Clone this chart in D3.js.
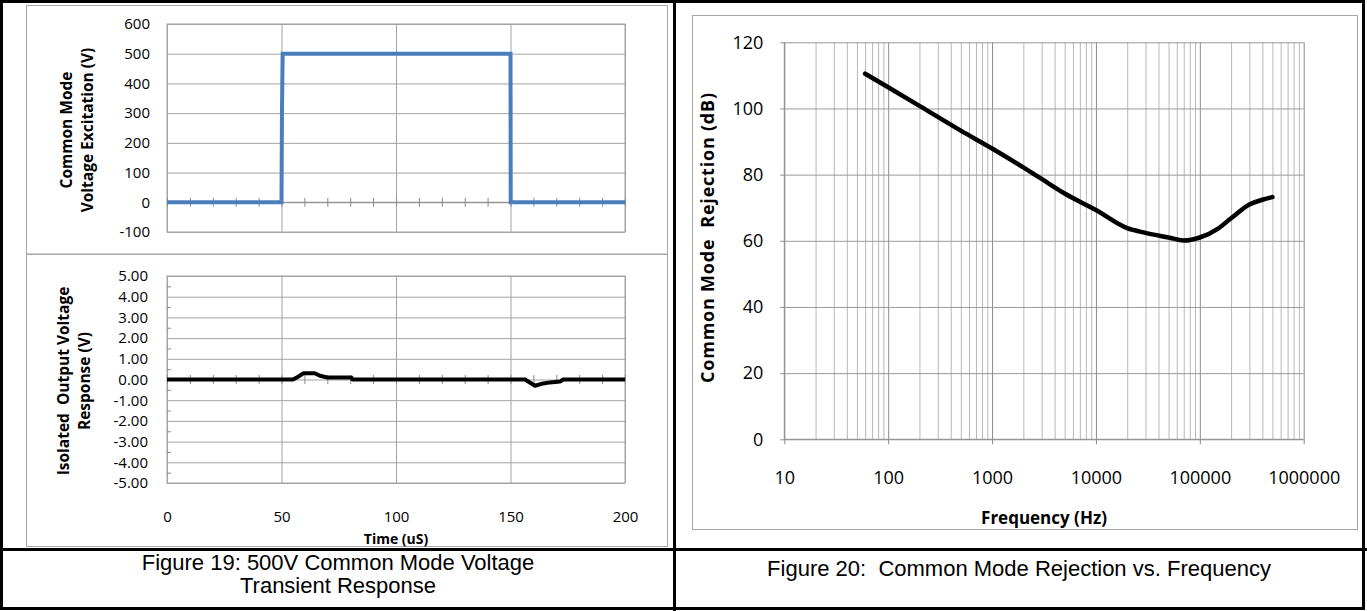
<!DOCTYPE html>
<html>
<head>
<meta charset="utf-8">
<script src="https://cdn.jsdelivr.net/npm/d3@7"></script>
<style>
  html, body { margin: 0; padding: 0; background: #fff; }
  svg { display: block; }
  .chart text { font-family: "Open Sans", sans-serif; fill: #000; }
  .caption { font-family: "Liberation Sans", Arial, sans-serif; fill: #000; }
</style>
</head>
<body>
<svg id="fig" width="1367" height="611"></svg>
<script>
// ---- Figure 19: 500 V common-mode step and isolated output response ----
const timeTicks = [0, 50, 100, 150, 200];
const excitationTicks = [-100, 0, 100, 200, 300, 400, 500, 600];
const responseTicks = [-5, -4, -3, -2, -1, 0, 1, 2, 3, 4, 5];

const stepTime  = [0, 50, 50.2, 50.5, 150, 150.1, 200];
const stepVolts = [0, 0, 300, 500, 500, 0, 0];

const respTime  = [0, 55, 57.5, 59.5, 64.5, 66.8, 70, 80.5, 81, 156.3, 160.7, 164.3, 167.2, 171.6, 173, 200];
const respVolts = [0, 0, 0.15, 0.3, 0.3, 0.18, 0.1, 0.1, 0, 0, -0.3, -0.19, -0.14, -0.1, 0, 0];

// ---- Figure 20: common-mode rejection vs frequency ----
const freqTicks = [10, 100, 1000, 10000, 100000, 1000000];
const cmrTicks  = [0, 20, 40, 60, 80, 100, 120];
const cmrFreq = [60, 100, 200, 500, 1000, 2000, 3000, 5000, 10000, 20000, 30000, 50000, 70000, 100000, 150000, 200000, 300000, 400000, 500000];
const cmrDb   = [110.5, 106.4, 100.8, 93.3, 87.9, 82.2, 78.7, 74.3, 69.3, 63.8, 62.4, 61.0, 60.1, 61.0, 63.7, 66.8, 71.0, 72.4, 73.2];

const captionLeft  = ["Figure 19: 500V Common Mode Voltage", "Transient Response"];
const captionRight = "Figure 20:  Common Mode Rejection vs. Frequency";

const svg = d3.select("#fig");
const GRID = "#a3a3a3";
const FRAME = "#a6a6a6";

// ---------- chart frames ----------
const frames = svg.append("g");
frames.append("rect").attr("x", 26.5).attr("y", 5.5).attr("width", 641).attr("height", 248.5)
  .attr("fill", "none").attr("stroke", FRAME);
frames.append("rect").attr("x", 26.5).attr("y", 254.5).attr("width", 641).attr("height", 292)
  .attr("fill", "none").attr("stroke", FRAME);
frames.append("rect").attr("x", 692.5).attr("y", 15.5).attr("width", 665).attr("height", 514)
  .attr("fill", "none").attr("stroke", FRAME);

function cleanGrid(sel, color) {
  sel.select(".domain").remove();
  sel.selectAll(".tick line").attr("stroke", color).attr("stroke-width", 1);
}

// ---------- top-left: excitation ----------
const xT = d3.scaleLinear().domain([0, 200]).range([167, 625]);
const yV = d3.scaleLinear().domain([-100, 600]).range([232, 24]);
const gTop = svg.append("g").attr("class", "chart");

gTop.append("g").attr("transform", `translate(${xT(0)},0)`)
  .call(d3.axisLeft(yV).tickValues(excitationTicks).tickSize(-(xT(200) - xT(0))).tickFormat(""))
  .call(g => cleanGrid(g, GRID));
gTop.append("g").attr("transform", `translate(0,${yV(-100)})`)
  .call(d3.axisBottom(xT).tickValues(timeTicks).tickSize(-(yV(-100) - yV(600))).tickFormat(""))
  .call(g => cleanGrid(g, GRID));
gTop.append("rect").attr("x", xT(0)).attr("y", yV(600))
  .attr("width", xT(200) - xT(0)).attr("height", yV(-100) - yV(600))
  .attr("fill", "none").attr("stroke", GRID);

// zero axis with minor ticks
gTop.append("g").attr("transform", `translate(0,${yV(0) - 4.5})`)
  .call(d3.axisBottom(xT).tickValues(d3.range(0, 201, 10)).tickSize(9).tickFormat(""))
  .call(g => { g.select(".domain").remove(); g.selectAll(".tick line").attr("stroke", "#8a8a8a"); });
gTop.append("line").attr("x1", xT(0)).attr("x2", xT(200)).attr("y1", yV(0)).attr("y2", yV(0))
  .attr("stroke", "#8a8a8a");

gTop.append("g").attr("transform", `translate(${xT(0)},0)`)
  .call(d3.axisLeft(yV).tickValues(excitationTicks).tickSize(0).tickPadding(17).tickFormat(d => String(d)))
  .call(g => g.select(".domain").remove())
  .call(g => g.selectAll("text").attr("font-size", 15).attr("font-family", "Open Sans"));

gTop.append("path")
  .datum(stepTime.map((t, i) => [t, stepVolts[i]]))
  .attr("fill", "none").attr("stroke", "#4a7ebb").attr("stroke-width", 4)
  .attr("stroke-linejoin", "miter")
  .attr("d", d3.line().x(d => xT(d[0])).y(d => yV(d[1])));

const topTitle = gTop.append("g").attr("transform", "translate(0,130) rotate(-90)");
topTitle.append("text").attr("x", 0).attr("y", 72).attr("text-anchor", "middle")
  .attr("font-size", 15.5).attr("font-weight", "bold").text("Common Mode");
topTitle.append("text").attr("x", 0).attr("y", 93).attr("text-anchor", "middle")
  .attr("font-size", 15.5).attr("font-weight", "bold").text("Voltage Excitation (V)");

// ---------- bottom-left: isolated output ----------
const yR = d3.scaleLinear().domain([-5, 5]).range([483, 276]);
const gBot = svg.append("g").attr("class", "chart");

gBot.append("g").attr("transform", `translate(${xT(0)},0)`)
  .call(d3.axisLeft(yR).tickValues(responseTicks).tickSize(-(xT(200) - xT(0))).tickFormat(""))
  .call(g => cleanGrid(g, GRID));
gBot.append("g").attr("transform", `translate(0,${yR(-5)})`)
  .call(d3.axisBottom(xT).tickValues(timeTicks).tickSize(-(yR(-5) - yR(5))).tickFormat(""))
  .call(g => cleanGrid(g, GRID));
gBot.append("rect").attr("x", xT(0)).attr("y", yR(5))
  .attr("width", xT(200) - xT(0)).attr("height", yR(-5) - yR(5))
  .attr("fill", "none").attr("stroke", GRID);

// minor ticks on the value axis (inside)
gBot.append("g").attr("transform", `translate(${xT(0)},0)`)
  .call(d3.axisRight(yR).tickValues(d3.range(-4.5, 5, 1)).tickSize(4).tickFormat(""))
  .call(g => { g.select(".domain").remove(); g.selectAll(".tick line").attr("stroke", "#8a8a8a"); });
// zero axis with minor ticks
gBot.append("g").attr("transform", `translate(0,${yR(0) - 4.5})`)
  .call(d3.axisBottom(xT).tickValues(d3.range(0, 201, 10)).tickSize(9).tickFormat(""))
  .call(g => { g.select(".domain").remove(); g.selectAll(".tick line").attr("stroke", "#8a8a8a"); });

gBot.append("g").attr("transform", `translate(${xT(0)},0)`)
  .call(d3.axisLeft(yR).tickValues(responseTicks).tickSize(0).tickPadding(19).tickFormat(d => d.toFixed(2)))
  .call(g => g.select(".domain").remove())
  .call(g => g.selectAll("text").attr("font-size", 15).attr("font-family", "Open Sans"));

gBot.append("g").attr("transform", `translate(0,${yR(-5)})`)
  .call(d3.axisBottom(xT).tickValues(timeTicks).tickSize(0).tickPadding(28))
  .call(g => g.select(".domain").remove())
  .call(g => g.selectAll("text").attr("font-size", 15).attr("font-family", "Open Sans"));

gBot.append("path")
  .datum(respTime.map((t, i) => [t, respVolts[i]]))
  .attr("fill", "none").attr("stroke", "#000").attr("stroke-width", 4)
  .attr("stroke-linejoin", "round")
  .attr("d", d3.line().x(d => xT(d[0])).y(d => yR(d[1])));

const botTitle = gBot.append("g").attr("transform", "translate(0,381) rotate(-90)");
botTitle.append("text").attr("x", 0).attr("y", 69).attr("text-anchor", "middle")
  .attr("font-size", 15.5).attr("font-weight", "bold").attr("xml:space", "preserve")
  .text("Isolated  Output Voltage");
botTitle.append("text").attr("x", 0).attr("y", 90).attr("text-anchor", "middle")
  .attr("font-size", 15.5).attr("font-weight", "bold").text("Response (V)");

gBot.append("text").attr("x", (xT(0) + xT(200)) / 2).attr("y", 544).attr("text-anchor", "middle")
  .attr("font-size", 14).attr("font-weight", "bold").text("Time (uS)");

// ---------- right: CMR vs frequency ----------
const xF = d3.scaleLog().domain([10, 1e6]).range([784.3, 1303.7]);
const yF = d3.scaleLinear().domain([0, 120]).range([439.3, 42.3]);
const gCmr = svg.append("g").attr("class", "chart");

const minorFreqs = [];
for (let dec = 10; dec < 1e6; dec *= 10) for (let k = 2; k <= 9; k++) minorFreqs.push(dec * k);

gCmr.append("g").attr("transform", `translate(0,${yF(0)})`)
  .call(d3.axisBottom(xF).tickValues(minorFreqs).tickSize(-(yF(0) - yF(120))).tickFormat(""))
  .call(g => cleanGrid(g, "#b8b8b8"));
gCmr.append("g").attr("transform", `translate(0,${yF(0)})`)
  .call(d3.axisBottom(xF).tickValues(freqTicks).tickSize(-(yF(0) - yF(120))).tickFormat(""))
  .call(g => cleanGrid(g, "#8c8c8c"));
gCmr.append("g").attr("transform", `translate(${xF(10)},0)`)
  .call(d3.axisLeft(yF).tickValues(cmrTicks).tickSize(-(xF(1e6) - xF(10))).tickFormat(""))
  .call(g => cleanGrid(g, "#9a9a9a"));

// outside tick marks
gCmr.append("g").attr("transform", `translate(0,${yF(0)})`)
  .call(d3.axisBottom(xF).tickValues(freqTicks).tickSize(5).tickFormat(""))
  .call(g => { g.select(".domain").remove(); g.selectAll(".tick line").attr("stroke", "#8c8c8c"); });
gCmr.append("g").attr("transform", `translate(${xF(10)},0)`)
  .call(d3.axisLeft(yF).tickValues(cmrTicks).tickSize(4).tickFormat(""))
  .call(g => { g.select(".domain").remove(); g.selectAll(".tick line").attr("stroke", "#8c8c8c"); });
gCmr.append("line").attr("x1", xF(10)).attr("x2", xF(10)).attr("y1", yF(0)).attr("y2", yF(120))
  .attr("stroke", "#8c8c8c");
gCmr.append("line").attr("x1", xF(10)).attr("x2", xF(1e6)).attr("y1", yF(0)).attr("y2", yF(0))
  .attr("stroke", "#8c8c8c");

gCmr.append("g").attr("transform", `translate(${xF(10)},0)`)
  .call(d3.axisLeft(yF).tickValues(cmrTicks).tickSize(0).tickPadding(21))
  .call(g => g.select(".domain").remove())
  .call(g => g.selectAll("text").attr("font-size", 18).attr("font-family", "Open Sans"));
gCmr.append("g").attr("transform", `translate(0,${yF(0)})`)
  .call(d3.axisBottom(xF).tickValues(freqTicks).tickSize(0).tickPadding(32).tickFormat(d3.format("d")))
  .call(g => g.select(".domain").remove())
  .call(g => g.selectAll("text").attr("font-size", 18).attr("font-family", "Open Sans"));

gCmr.append("path")
  .datum(cmrFreq.map((f, i) => [f, cmrDb[i]]))
  .attr("fill", "none").attr("stroke", "#000").attr("stroke-width", 4.5)
  .attr("stroke-linecap", "round").attr("stroke-linejoin", "round")
  .attr("d", d3.line().curve(d3.curveMonotoneX).x(d => xF(d[0])).y(d => yF(d[1])));

gCmr.append("text").attr("transform", "translate(714,238) rotate(-90)").attr("text-anchor", "middle")
  .attr("font-size", 18).attr("font-weight", "bold").attr("xml:space", "preserve")
  .attr("textLength", 290).attr("lengthAdjust", "spacing")
  .text("Common Mode  Rejection (dB)");
gCmr.append("text").attr("x", (xF(10) + xF(1e6)) / 2).attr("y", 524).attr("text-anchor", "middle")
  .attr("font-size", 17).attr("font-weight", "bold").text("Frequency (Hz)");

// ---------- table rules and captions ----------
const rules = svg.append("g").attr("stroke", "#000").attr("stroke-width", 3).attr("fill", "none");
rules.append("rect").attr("x", 1.5).attr("y", 1.5).attr("width", 1362).attr("height", 607);
rules.append("line").attr("x1", 674.5).attr("x2", 674.5).attr("y1", 0).attr("y2", 611);
rules.append("line").attr("x1", 0).attr("x2", 1367).attr("y1", 549.5).attr("y2", 549.5);

svg.append("text").attr("class", "caption").attr("x", 338).attr("y", 570)
  .attr("text-anchor", "middle").attr("font-size", 22).text(captionLeft[0]);
svg.append("text").attr("class", "caption").attr("x", 338).attr("y", 593)
  .attr("text-anchor", "middle").attr("font-size", 22).text(captionLeft[1]);
svg.append("text").attr("class", "caption").attr("x", 1019).attr("y", 576)
  .attr("text-anchor", "middle").attr("font-size", 22).attr("xml:space", "preserve").text(captionRight);
</script>
</body>
</html>
